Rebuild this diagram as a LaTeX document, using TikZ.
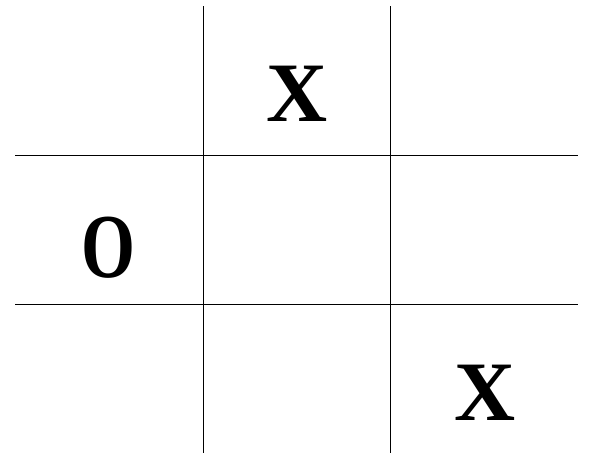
\documentclass[tikz,border=0pt]{standalone}
\usepackage{fontspec}
\setmainfont{Liberation Serif}
\usepackage{tikz}
\tikzset{
  gridline/.style={draw=black, line width=1pt},
  glyph/.style   ={font=\fontsize{84.6}{90}\selectfont\bfseries, inner sep=0pt, anchor=base},
}

\begin{document}
\begin{tikzpicture}[x=1pt,y=-1pt]
\useasboundingbox (0,0) rectangle (601,467);
\foreach \x in {203.5,390.5}{
  \draw[gridline] (\x,6) -- (\x,452.5);
}
\foreach \y in {155.3,304}{
  \draw[gridline] (15,\y) -- (577.7,\y);
}
\node[glyph] (xtop) at (297,121) {X};
\node[glyph, xscale=0.82, yscale=1.08, transform shape] (omid) at (108.7,277.5) {O};
\node[glyph] (xbot) at (485,420) {X};
\end{tikzpicture}
\end{document}
